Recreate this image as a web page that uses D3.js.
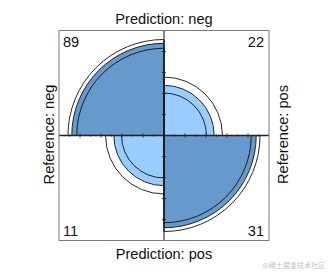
<!DOCTYPE html>
<html><head><meta charset="utf-8">
<script src="https://cdn.jsdelivr.net/npm/d3@7"></script>
<style>html,body{margin:0;padding:0;background:#fff}svg{display:block}</style>
</head><body>
<script>
// ---- data ----
const predictionLevels = ["neg", "pos"];   // rows (top / bottom)
const referenceLevels = ["neg", "pos"];    // columns (left / right)
const cellCounts = [[89, 22], [11, 31]];   // [prediction][reference]
const fillColors = ["#99CCFF", "#6699CC"]; // off-diagonal, diagonal
const confLevel = 0.95;
const watermark = "@稀土掘金技术社区";

// ---- layout ----
const W = 328, H = 272;
const cx = 164, cy = 135.5, half = 105;
const font = "'Liberation Sans', Arial, Helvetica, sans-serif";
const fs = 14.6;

const svg = d3.select("body").append("svg").attr("width", W).attr("height", H);
const x = d3.scaleLinear().domain([-1, 1]).range([cx - half, cx + half]);
const y = d3.scaleLinear().domain([-1, 1]).range([cy + half, cy - half]);
const r = d3.scaleLinear().domain([0, 1]).range([0, half]);

// ---- standardisation (equal margins) and confidence rings ----
const n = cellCounts;
const oddsRatio = (n[0][0] * n[1][1]) / (n[0][1] * n[1][0]);
const se = Math.sqrt(n.flat().reduce((s, v) => s + 1 / v, 0));
const z = 1.959964; // qnorm((1+0.95)/2)
const orLow = Math.exp(Math.log(oddsRatio) - z * se);
const orHigh = Math.exp(Math.log(oddsRatio) + z * se);
const diagShare = o => Math.sqrt(o) / (1 + Math.sqrt(o));

// quadrant angles (d3: 0 = 12 o'clock, clockwise)
const quad = [
  [{a0: -Math.PI / 2, a1: 0}, {a0: 0, a1: Math.PI / 2}],
  [{a0: Math.PI, a1: 1.5 * Math.PI}, {a0: Math.PI / 2, a1: Math.PI}]
];

const cells = [];
for (let i = 0; i < 2; i++) for (let j = 0; j < 2; j++) {
  const diag = i === j;
  const p = diag ? diagShare(oddsRatio) : 1 - diagShare(oddsRatio);
  const pLow = diag ? diagShare(orLow) : 1 - diagShare(orHigh);
  const pHigh = diag ? diagShare(orHigh) : 1 - diagShare(orLow);
  cells.push({i, j, diag, count: n[i][j], p, pLow, pHigh, ...quad[i][j]});
}

const arc = d3.arc().innerRadius(0);
const g = svg.append("g").attr("transform", `translate(${cx},${cy})`);

// filled sectors
g.selectAll("path.sector").data(cells).join("path")
  .attr("class", "sector")
  .attr("d", d => arc({outerRadius: r(Math.sqrt(d.p)), startAngle: d.a0, endAngle: d.a1}))
  .attr("fill", d => fillColors[d.diag ? 1 : 0])
  .attr("stroke", "#111").attr("stroke-width", 0.9);

// confidence rings
const rings = cells.flatMap(d => [
  {a0: d.a0, a1: d.a1, p: d.pLow},
  {a0: d.a0, a1: d.a1, p: d.pHigh}
]);
g.selectAll("path.ring").data(rings).join("path")
  .attr("class", "ring")
  .attr("d", d => arc({outerRadius: r(Math.sqrt(d.p)), startAngle: d.a0, endAngle: d.a1}))
  .attr("fill", "none")
  .attr("stroke", "#111").attr("stroke-width", 0.9);

// axes + ticks
const axisCol = "#222";
svg.append("line").attr("x1", x(-1)).attr("x2", x(1)).attr("y1", y(0)).attr("y2", y(0))
  .attr("stroke", axisCol).attr("stroke-width", 1.3);
svg.append("line").attr("x1", x(0)).attr("x2", x(0)).attr("y1", y(-1)).attr("y2", y(1))
  .attr("stroke", axisCol).attr("stroke-width", 1.1);
const majorTicks = d3.range(-8, 9, 2).map(v => v / 10);
const minorTicks = d3.range(-9, 10, 2).map(v => v / 10);
const tickG = svg.append("g").attr("stroke", axisCol).attr("stroke-width", 0.8);
[[majorTicks, 0.02], [minorTicks, 0.01]].forEach(([vals, len]) => {
  tickG.selectAll(null).data(vals).join("line")
    .attr("x1", d => x(d)).attr("x2", d => x(d))
    .attr("y1", y(-len)).attr("y2", y(len));
  tickG.selectAll(null).data(vals).join("line")
    .attr("y1", d => y(d)).attr("y2", d => y(d))
    .attr("x1", x(-len)).attr("x2", x(len));
});

// box
svg.append("rect").attr("x", x(-1)).attr("y", y(1))
  .attr("width", x(1) - x(-1)).attr("height", y(-1) - y(1))
  .attr("fill", "none").attr("stroke", "#7a7a7a").attr("stroke-width", 1);

// labels
const txt = (s, tx, ty, anchor, rot) => {
  const t = svg.append("text").text(s)
    .attr("font-family", font).attr("font-size", fs).attr("fill", "#111")
    .attr("text-anchor", anchor);
  if (rot) t.attr("transform", `translate(${tx},${ty}) rotate(${rot})`);
  else t.attr("x", tx).attr("y", ty);
  return t;
};
txt("Prediction: " + predictionLevels[0], cx, 24, "middle");
txt("Prediction: " + predictionLevels[1], cx, 259, "middle");
txt("Reference: " + referenceLevels[0], 54, 134.5, "middle", -90);
txt("Reference: " + referenceLevels[1], 287.5, 134.5, "middle", -90);

// counts in corners
txt(String(n[0][0]), x(-1) + 4, y(1) + 16, "start");
txt(String(n[0][1]), x(1) - 5, y(1) + 16, "end");
txt(String(n[1][0]), x(-1) + 4, y(-1) - 4.5, "start");
txt(String(n[1][1]), x(1) - 5, y(-1) - 4.5, "end");

// watermark
svg.append("text").text(watermark).attr("x", 325).attr("y", 268)
  .attr("text-anchor", "end").attr("font-family", "'Noto Sans CJK SC', sans-serif")
  .attr("font-size", 7).attr("fill", "#c4c4c4");
</script>
</body></html>
